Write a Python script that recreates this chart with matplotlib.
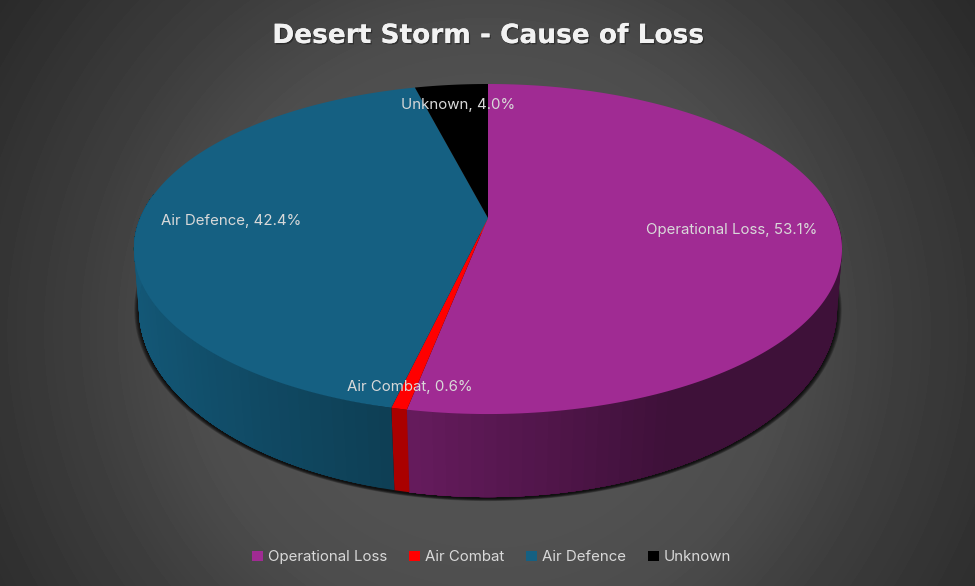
import numpy as np
import matplotlib
matplotlib.use('Agg')
import matplotlib.pyplot as plt
from matplotlib.patches import Patch, Polygon
import matplotlib.patheffects as pe

categories = ['Operational Loss', 'Air Combat', 'Air Defence', 'Unknown']
shares = [53.1, 0.6, 42.4, 4.0]
colors = ['#a02b93', '#ff0000', '#156082', '#000000']
title = 'Desert Storm - Cause of Loss'

# where the labels sit, px
label_pos = [(731.5, 230), (410, 387), (231, 220.5), (458, 105)]

W, H = 975, 586
plt.rcParams['font.family'] = ['Inter', 'DejaVu Sans']


def rim(t, top=True):
	# perspective view of a circle, t clockwise from 12 o'clock
	if top:
		k, a, b, y0 = .188, 159.2, 347.7, 218
	else:
		k, a, b, y0 = .17, 183.5, 344, 276
	d = 1 + k * np.cos(t)
	return 488 + b * np.sin(t) / d, y0 - a * np.cos(t) / d


def shade(t):
	return np.interp(np.sin(t), [-1, -.65, -.23, .1, .43, 1], [.93, .8, .65, .52, .39, .39])


fig = plt.figure(figsize=(W / 100, H / 100), dpi=100)
ax = fig.add_axes([0, 0, 1, 1])
ax.set_xlim(0, W)
ax.set_ylim(H, 0)
ax.axis('off')

# background
yy, xx = np.mgrid[0:H, 0:W]
r = np.hypot(xx - 487, yy - 330)
bg = np.interp(r, [0, 200, 300, 400, 600], [.345, .32, .3, .245, .16])
ax.imshow(bg, cmap='gray', vmin=0, vmax=1, extent=(0, W, H, 0), aspect='auto', zorder=0)

# soft shadow under the lower rim
t = np.linspace(np.pi / 2 - .25, 3 * np.pi / 2 + .25, 300)
bx, by = rim(t, False)
for i in range(7):
	grow = 1 + (6 - i) * .0022
	ax.add_patch(Polygon(np.c_[488 + (bx - 488) * grow, 308 + (by - 308) * grow + 1.5],
						 fc='k', ec='none', alpha=.2, zorder=1))

edges = np.r_[0, np.cumsum(shares)] / sum(shares) * 2 * np.pi

# sides, only the part facing us
step = .03
for i in range(len(shares)):
	lo = max(edges[i], np.pi / 2 - .15)
	hi = min(edges[i + 1], 3 * np.pi / 2 + .15)
	if hi <= lo:
		continue
	n = max(int((hi - lo) / step), 1)
	a = np.linspace(lo, hi, n + 1)
	for j in range(n):
		# run each strip on to the end of the slice, the next one paints over it
		s = np.linspace(a[j], hi, 60)
		x0, y0 = rim(s)
		x1, y1 = rim(s[::-1], False)
		fc = np.array(matplotlib.colors.to_rgb(colors[i])) * shade((a[j] + a[j + 1]) / 2)
		if colors[i] == '#ff0000':
			fc = '#aa0000'
		ax.fill(np.r_[x0, x1], np.r_[y0, y1], fc=fc, ec='none', zorder=2)

# top face
for i in range(len(shares)):
	a = np.linspace(edges[i], edges[i + 1], 200)
	x, y = rim(a)
	ax.fill(np.r_[488, x], np.r_[218, y], fc=colors[i], ec='none', zorder=3)

for name, val, (x, y) in zip(categories, shares, label_pos):
	ax.text(x, y, f'{name}, {val:.1f}%', color='#d9d9d9', fontsize=10.8,
			ha='center', va='center', zorder=4)

t = ax.text(488, 36, title, color='#f2f2f2', fontsize=19, fontweight='bold',
			family=['DejaVu Sans'], ha='center', va='center', zorder=4)
t.set_path_effects([pe.withSimplePatchShadow(offset=(1, -1), alpha=.35, shadow_rgbFace='k'), pe.Normal()])

handles = [Patch(fc=c, ec='none') for c in colors]
leg = ax.legend(handles, categories, loc='center', bbox_to_anchor=(491.5 / W, 1 - 557 / H), ncol=4,
				frameon=False, fontsize=10.8, labelcolor='#d9d9d9', handlelength=.7, handleheight=.7,
				handletextpad=.32, columnspacing=1.5, borderpad=0)

fig.savefig('out.png', dpi=100)
